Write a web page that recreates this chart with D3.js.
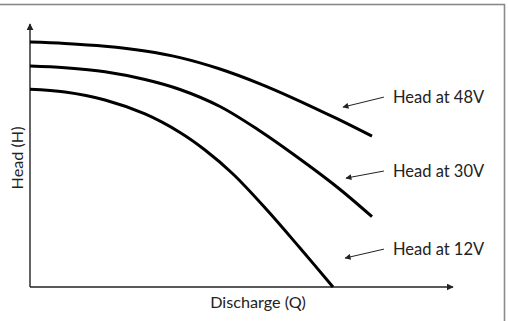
<!DOCTYPE html>
<html>
<head>
<meta charset="utf-8">
<script src="https://cdn.jsdelivr.net/npm/d3@7"></script>
<style>
  html, body { margin: 0; padding: 0; background: #fff; }
  svg { display: block; }
  text { font-family: Lato, "Open Sans", sans-serif; fill: #222; }
</style>
</head>
<body>
<div id="chart"></div>
<script>
// Discharge (Q) and head (H) in relative units, 0..100 on each axis
const q48 = [0, 8.27, 17.73, 27.19, 35.46, 44.92, 54.37, 62.17, 72.58, 80.85];
const h48 = [93.16, 92.62, 91.56, 89.73, 87.22, 82.89, 77.26, 71.86, 63.99, 57.34];
const q30 = [0, 8.27, 17.73, 27.19, 35.46, 44.92, 54.37, 62.17, 72.58, 80.85];
const h30 = [84.03, 83.38, 81.86, 78.90, 75.10, 68.63, 59.32, 50.57, 38.02, 26.73];
const q12 = [0, 8.27, 17.73, 27.19, 35.46, 41.37, 47.99, 56.03, 63.83, 71.63];
const h12 = [75.17, 74.14, 71.10, 65.78, 58.75, 52.09, 42.97, 29.28, 14.83, 0];

const seriesNames = ['Head at 48V', 'Head at 30V', 'Head at 12V'];
// label anchor (Q, H) and where each arrow points to
const labelQ = [85.8, 85.8, 85.8];
const labelH = [72.2, 44.1, 14.4];
const arrowTipQ = [74.0, 74.7, 74.5];
const arrowTipH = [68.4, 41.4, 11.0];

const W = 508, H = 321;
const margin = { top: 24, right: 55, bottom: 34, left: 30 };

const svg = d3.select('#chart').append('svg')
  .attr('width', W).attr('height', H);

const x = d3.scaleLinear().domain([0, 100]).range([margin.left, W - margin.right]);
const y = d3.scaleLinear().domain([0, 100]).range([H - margin.bottom, margin.top]);

// frame
svg.append('rect')
  .attr('x', -2).attr('y', 4.5)
  .attr('width', 506.5).attr('height', 330)
  .attr('fill', 'none').attr('stroke', '#8a8a8a').attr('stroke-width', 1.6);

const defs = svg.append('defs');
defs.append('marker')
  .attr('id', 'axhead').attr('viewBox', '0 0 10 10')
  .attr('refX', 9).attr('refY', 5)
  .attr('markerWidth', 7).attr('markerHeight', 7)
  .attr('markerUnits', 'userSpaceOnUse')
  .attr('orient', 'auto')
  .append('path').attr('d', 'M0,0L10,5L0,10Z').attr('fill', '#222');
defs.append('marker')
  .attr('id', 'thin').attr('viewBox', '0 0 10 10')
  .attr('refX', 9).attr('refY', 5)
  .attr('markerWidth', 7).attr('markerHeight', 6)
  .attr('markerUnits', 'userSpaceOnUse')
  .attr('orient', 'auto')
  .append('path').attr('d', 'M0,0L10,5L0,10Z').attr('fill', '#222');

// axes
svg.append('line')
  .attr('x1', x(0)).attr('y1', y(0)).attr('x2', x(0)).attr('y2', y(100))
  .attr('stroke', '#222').attr('stroke-width', 1.4)
  .attr('marker-end', 'url(#axhead)');
svg.append('line')
  .attr('x1', x(0)).attr('y1', y(0)).attr('x2', x(100)).attr('y2', y(0))
  .attr('stroke', '#222').attr('stroke-width', 1.4)
  .attr('marker-end', 'url(#axhead)');

// curves
const line = d3.line()
  .x(d => x(d[0])).y(d => y(d[1]))
  .curve(d3.curveCatmullRom.alpha(0.5));

[[q48, h48], [q30, h30], [q12, h12]].forEach(([qs, hs]) => {
  svg.append('path')
    .datum(qs.map((q, i) => [q, hs[i]]))
    .attr('d', line)
    .attr('fill', 'none')
    .attr('stroke', '#000')
    .attr('stroke-width', 3);
});

// labels with arrows
seriesNames.forEach((name, i) => {
  svg.append('line')
    .attr('x1', x(labelQ[i]) - 9).attr('y1', y(labelH[i]))
    .attr('x2', x(arrowTipQ[i])).attr('y2', y(arrowTipH[i]))
    .attr('stroke', '#222').attr('stroke-width', 1)
    .attr('marker-end', 'url(#thin)');
  svg.append('text')
    .attr('x', x(labelQ[i])).attr('y', y(labelH[i]))
    .attr('dominant-baseline', 'central')
    .attr('font-size', '16.5px')
    .text(name);
});

// axis titles
svg.append('text')
  .attr('x', 258).attr('y', H - 20)
  .attr('text-anchor', 'middle').attr('dominant-baseline', 'central')
  .attr('font-size', '16.2px')
  .text('Discharge (Q)');
svg.append('text')
  .attr('transform', 'translate(16,158) rotate(-90)')
  .attr('text-anchor', 'middle').attr('dominant-baseline', 'central')
  .attr('font-size', '16.2px')
  .text('Head (H)');
</script>
</body>
</html>
